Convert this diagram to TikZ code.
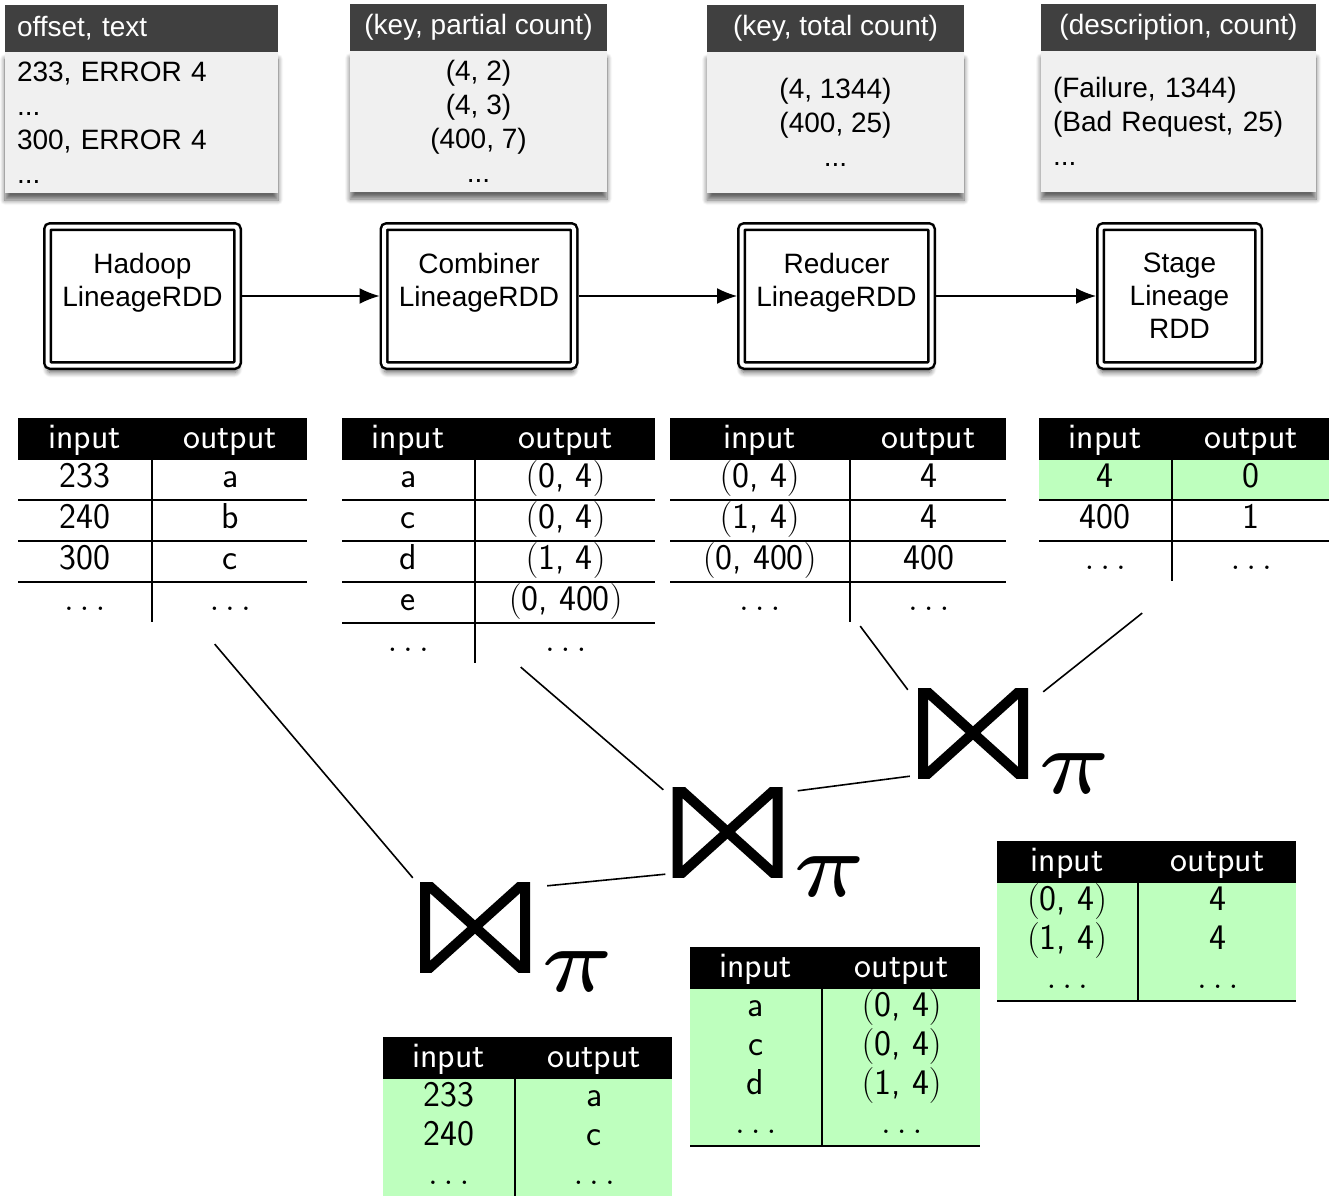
\PassOptionsToPackage{table}{xcolor}
\RequirePackage{fix-cm}
\documentclass[tikz,border=0pt]{standalone}
\usepackage{fontspec}
\newfontfamily\boxfont{Liberation Sans}
\usepackage{array}
\usepackage{tikz}
\usetikzlibrary{positioning, shadows.blur, arrows.meta}

\definecolor{hdrgrey}{RGB}{64,64,64}
\definecolor{bodygrey}{RGB}{240,240,240}
\definecolor{lgreen}{RGB}{190,255,190}

\setlength{\tabcolsep}{0pt}
\setlength{\arrayrulewidth}{2pt}
\newcolumntype{C}[1]{>{\centering\arraybackslash}p{#1}}
\newcommand{\tup}[1]{$($#1$)$}
\newcommand{\etc}{$\ldots$}

\tikzstyle{arrow} = [line width=1.5pt,-{Latex[length=20pt,width=16pt]}]
\tikzstyle{link} = [line width=1.6pt]

\begin{document}
\begin{tikzpicture}[x=1pt, y=-1pt,
    soft/.style={blur shadow={shadow xshift=0pt, shadow yshift=-7pt, shadow blur radius=5pt,
        shadow blur steps=8, shadow opacity=60}},
    hdr/.style={fill=hdrgrey, text=white, minimum height=47pt, inner xsep=12pt, outer sep=0pt,
        font=\boxfont\fontsize{28}{34}\selectfont},
    body/.style={fill=bodygrey, minimum height=141pt, inner xsep=12pt, outer sep=0pt,
        font=\boxfont\fontsize{28}{34}\selectfont, soft},
    rdd/.style={draw, double, double distance=4pt, line width=2.5pt, rounded corners=3pt, fill=white,
        minimum width=190pt, minimum height=139pt, align=center, outer sep=4.5pt,
        font=\boxfont\fontsize{28}{33}\selectfont, soft},
    tbl/.style={anchor=north west, inner sep=0pt, font=\sffamily\fontsize{36}{39}\selectfont},
    tie/.style={minimum width=110pt, minimum height=90pt, inner sep=0pt, path picture={
        \draw[line width=10pt, line join=miter]
            ([xshift=5pt]path picture bounding box.north west) --
            ([xshift=-5pt]path picture bounding box.south east) --
            ([xshift=-5pt]path picture bounding box.north east) --
            ([xshift=5pt]path picture bounding box.south west) -- cycle;}},
    pisym/.style={inner sep=0pt, scale=18.5}]

\useasboundingbox (0,0) rectangle (1339,1196);

% records
\node[hdr, text width=249pt, align=left, anchor=north west] (offhd) at (5,5) {offset, text};
\node[body, text width=249pt, align=left, below=0pt of offhd] (offbd) {233, ERROR 4\\...\\300, ERROR 4\\...};

\node[hdr, minimum width=257pt, anchor=north west] (pchd) at (350,4) {(key, partial count)};
\node[body, minimum width=257pt, align=center, below=0pt of pchd] (pcbd) {(4, 2)\\(4, 3)\\(400, 7)\\...};

\node[hdr, minimum width=257pt, anchor=north west] (tchd) at (707,5) {(key, total count)};
\node[body, minimum width=257pt, align=center, below=0pt of tchd] (tcbd) {(4, 1344)\\(400, 25)\\...};

\node[hdr, minimum width=275pt, anchor=north west] (dchd) at (1041,4) {(description, count)};
\node[body, text width=251pt, align=left, below=0pt of dchd] (dcbd) {(Failure, 1344)\\(Bad Request, 25)\\...};

% lineage rdds
\node[rdd] (hadoop) at (142.5,296) {Hadoop\\LineageRDD\\~};
\node[rdd] (combiner) at (479,296) {Combiner\\LineageRDD\\~};
\node[rdd] (reducer) at (836.5,296) {Reducer\\LineageRDD\\~};
\node[rdd, minimum width=158pt] (stage) at (1179.5,296) {Stage\\Lineage\\RDD};

\draw[arrow] (hadoop) -- (combiner);
\draw[arrow] (combiner) -- (reducer);
\draw[arrow] (reducer) -- (stage);

% lineage tables
\node[tbl] (t1) at (18,418) {\begin{tabular}{C{133pt}|C{154pt}}
    \rowcolor{black}\rule{0pt}{30pt}\textcolor{white}{input} & \textcolor{white}{output}\\
    233 & a\\ \hline
    240 & b\\ \hline
    300 & c\\ \hline
    \etc & \etc
\end{tabular}};

\node[tbl] (t2) at (342,418) {\begin{tabular}{C{132pt}|C{179pt}}
    \rowcolor{black}\rule{0pt}{30pt}\textcolor{white}{input} & \textcolor{white}{output}\\
    a & \tup{0, 4}\\ \hline
    c & \tup{0, 4}\\ \hline
    d & \tup{1, 4}\\ \hline
    e & \tup{0, 400}\\ \hline
    \etc & \etc
\end{tabular}};

\node[tbl] (t3) at (670,418) {\begin{tabular}{C{179pt}|C{155pt}}
    \rowcolor{black}\rule{0pt}{30pt}\textcolor{white}{input} & \textcolor{white}{output}\\
    \tup{0, 4} & 4\\ \hline
    \tup{1, 4} & 4\\ \hline
    \tup{0, 400} & 400\\ \hline
    \etc & \etc
\end{tabular}};

\node[tbl] (t4) at (1039,418) {\begin{tabular}{C{132pt}|C{156pt}}
    \rowcolor{black}\rule{0pt}{30pt}\textcolor{white}{input} & \textcolor{white}{output}\\
    \rowcolor{lgreen}4 & 0\\ \hline
    400 & 1\\ \hline
    \etc & \etc
\end{tabular}};

% joins
\node[tie] (j1) at (475,927) {};
\node[pisym] (p1) at (578,972) {$\scriptscriptstyle\pi$};
\node[tie] (j2) at (727.5,832) {};
\node[pisym] (p2) at (830,877) {$\scriptscriptstyle\pi$};
\node[tie] (j3) at (973,733) {};
\node[pisym] (p3) at (1075,774) {$\scriptscriptstyle\pi$};

\draw[link] ([xshift=52pt,yshift=-22pt]t1.south) -- ([xshift=-7pt,yshift=4pt]j1.north west);
\draw[link] ([xshift=22pt,yshift=-4pt]t2.south) -- ([xshift=-9pt,yshift=-3pt]j2.north west);
\draw[link] ([xshift=22pt,yshift=-4pt]t3.south) -- ([xshift=-10pt,yshift=-2pt]j3.north west);
\draw[link] ([xshift=-42pt,yshift=-32pt]t4.south) -- ([xshift=15pt,yshift=-4pt]j3.north east);
\draw[link] ([xshift=17pt,yshift=-4pt]j1.north east) -- ([xshift=-7pt,yshift=3pt]j2.south west);
\draw[link] ([xshift=15pt,yshift=-4pt]j2.north east) -- ([xshift=-8pt,yshift=2pt]j3.south west);

% results
\node[tbl] (b1) at (383,1037) {\begin{tabular}{C{131pt}|C{156pt}}
    \rowcolor{black}\rule{0pt}{30pt}\textcolor{white}{input} & \textcolor{white}{output}\\
    \rowcolor{lgreen}233 & a\\
    \rowcolor{lgreen}240 & c\\
    \rowcolor{lgreen}\etc & \etc\\ \hline
\end{tabular}};

\node[tbl] (b2) at (690,947) {\begin{tabular}{C{131pt}|C{157pt}}
    \rowcolor{black}\rule{0pt}{30pt}\textcolor{white}{input} & \textcolor{white}{output}\\
    \rowcolor{lgreen}a & \tup{0, 4}\\
    \rowcolor{lgreen}c & \tup{0, 4}\\
    \rowcolor{lgreen}d & \tup{1, 4}\\
    \rowcolor{lgreen}\etc & \etc\\ \hline
\end{tabular}};

\node[tbl] (b3) at (997,841) {\begin{tabular}{C{140pt}|C{157pt}}
    \rowcolor{black}\rule{0pt}{30pt}\textcolor{white}{input} & \textcolor{white}{output}\\
    \rowcolor{lgreen}\tup{0, 4} & 4\\
    \rowcolor{lgreen}\tup{1, 4} & 4\\
    \rowcolor{lgreen}\etc & \etc\\ \hline
\end{tabular}};
\end{tikzpicture}
\end{document}
